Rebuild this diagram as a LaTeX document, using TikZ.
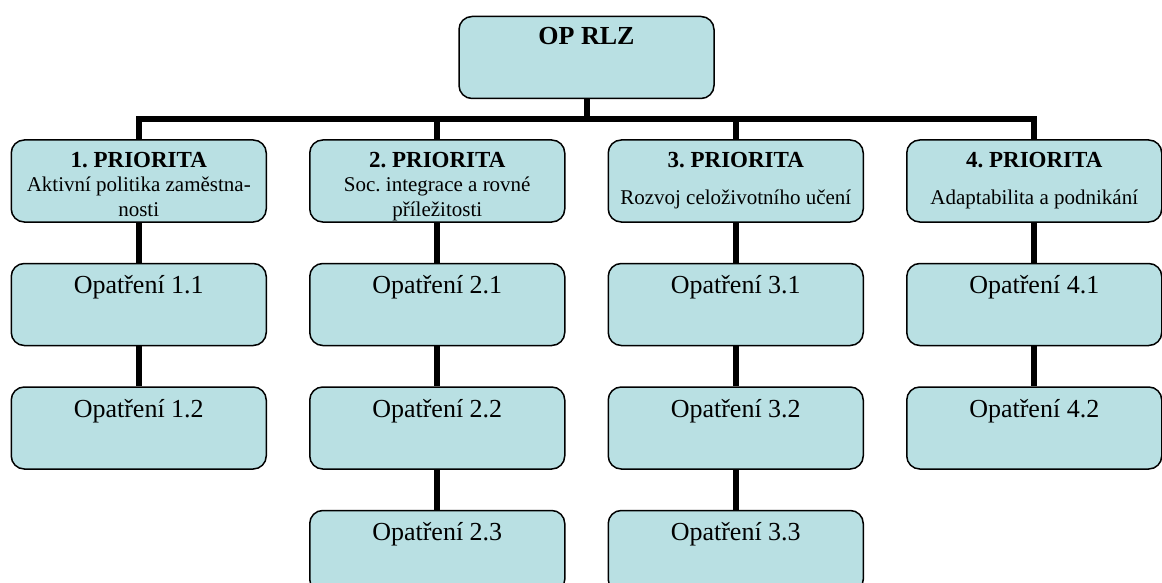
\documentclass[tikz,border=0pt]{standalone}
\usepackage{fontspec}
\setmainfont{Liberation Serif}
\usetikzlibrary{trees}
\frenchspacing

\definecolor{boxfill}{RGB}{185,224,227}
\tikzset{
  opbox/.style={draw=black, line width=1.5pt, fill=boxfill, rounded corners=13pt,
    inner sep=0pt, text width=255pt, align=flush center},
  rootbox/.style={opbox, text height=28.5pt, text depth=53.5pt,
    font=\fontsize{26}{30}\selectfont\bfseries},
  priobox/.style={opbox, text height=27.5pt, text depth=54.5pt,
    font=\fontsize{21}{24.5}\selectfont},
  measbox/.style={opbox, text height=30pt, text depth=52pt,
    font=\fontsize{26}{30}\selectfont}
}
\newcommand{\prio}[1]{{\fontsize{23}{24.5}\selectfont\bfseries #1}}

\begin{document}
\begin{tikzpicture}[x=1pt,y=1pt,
		level distance=123.5pt,
		level 1/.style={sibling distance=298.5pt},
		edge from parent/.style={draw, line width=6pt},
		edge from parent path={(\tikzparentnode.south) -- ++(0,-20pt) -| (\tikzchildnode.north)}]
		\useasboundingbox (0,0) rectangle (1162,-583);
		\clip (0,0) rectangle (1162,-583);
		\node[rootbox] (rlz) at (586.5,-57.5) {OP RLZ}
			child { node[priobox] (p1) {\prio{1. PRIORITA}\\Aktivní politika zaměstna-\\nosti}
				child { node[measbox] (o11) {Opatření 1.1}
					child { node[measbox] (o12) {Opatření 1.2}}
				}
			}
			child { node[priobox] (p2) {\prio{2. PRIORITA}\\Soc. integrace a rovné\\příležitosti}
				child { node[measbox] (o21) {Opatření 2.1}
					child { node[measbox] (o22) {Opatření 2.2}
						child { node[measbox] (o23) {Opatření 2.3}}
					}
				}
			}
			child { node[priobox] (p3) {\prio{3. PRIORITA}\\[13pt]Rozvoj celoživotního učení}
				child { node[measbox] (o31) {Opatření 3.1}
					child { node[measbox] (o32) {Opatření 3.2}
						child { node[measbox] (o33) {Opatření 3.3}}
					}
				}
			}
			child { node[priobox] (p4) {\prio{4. PRIORITA}\\[13pt]Adaptabilita a podnikání}
				child { node[measbox] (o41) {Opatření 4.1}
					child { node[measbox] (o42) {Opatření 4.2}}
				}
			};
	\end{tikzpicture}
\end{document}
